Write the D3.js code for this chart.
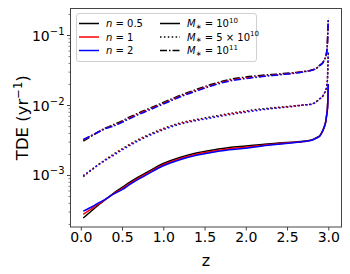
<!DOCTYPE html>
<html><head><meta charset="utf-8">
<script src="https://cdn.jsdelivr.net/npm/d3@7"></script>
<style>body{margin:0;background:#fff}svg{display:block}text{font-family:"DejaVu Sans",sans-serif;fill:#000}</style>
</head><body><svg id="c" width="350" height="274"></svg>
<script>
// redshift grid
const zValues = [0.03,0.1,0.2,0.3,0.4,0.5,0.6,0.7,0.8,1.0,1.2,1.4,1.6,1.8,2.0,2.2,2.4,2.6,2.7,2.8,2.85,2.9,2.93,2.95,2.97,2.98,2.99,2.995,3.0];
// TDE rate (yr^-1), M* = 1e10
const m10_n05 = [2.47e-4,2.91e-4,3.67e-4,4.54e-4,5.62e-4,6.74e-4,8.07e-4,9.52e-4,1.104e-3,1.483e-3,1.807e-3,2.096e-3,2.313e-3,2.512e-3,2.638e-3,2.773e-3,2.911e-3,3.01e-3,3.08e-3,3.21e-3,3.43e-3,3.73e-3,4.32e-3,4.93e-3,6.01e-3,7.31e-3,9.21e-3,1.28e-2,2.03e-2];
const m10_n1  = [2.79e-4,3.17e-4,3.82e-4,4.54e-4,5.51e-4,6.47e-4,7.75e-4,9.14e-4,1.060e-3,1.424e-3,1.735e-3,2.012e-3,2.220e-3,2.412e-3,2.532e-3,2.690e-3,2.853e-3,2.98e-3,3.07e-3,3.20e-3,3.42e-3,3.72e-3,4.31e-3,4.92e-3,6.00e-3,7.30e-3,9.20e-3,1.28e-2,2.03e-2];
const m10_n2  = [3.09e-4,3.40e-4,3.96e-4,4.59e-4,5.45e-4,6.27e-4,7.51e-4,8.85e-4,1.027e-3,1.379e-3,1.681e-3,1.949e-3,2.151e-3,2.336e-3,2.453e-3,2.634e-3,2.795e-3,2.95e-3,3.05e-3,3.18e-3,3.40e-3,3.69e-3,4.28e-3,4.88e-3,5.95e-3,7.24e-3,9.12e-3,1.27e-2,2.01e-2];
// M* = 5e10
const m5e10_n05 = [9.61e-4,1.122e-3,1.390e-3,1.693e-3,2.028e-3,2.405e-3,2.818e-3,3.27e-3,3.73e-3,4.69e-3,5.62e-3,6.31e-3,6.97e-3,7.69e-3,8.35e-3,8.97e-3,9.42e-3,9.90e-3,1.017e-2,1.05e-2,1.122e-2,1.259e-2,1.345e-2,1.483e-2,1.664e-2,1.866e-2,2.39e-2,3.66e-2,5.81e-2];
const m5e10_n1  = [9.80e-4,1.133e-3,1.390e-3,1.676e-3,1.987e-3,2.357e-3,2.762e-3,3.20e-3,3.66e-3,4.60e-3,5.51e-3,6.18e-3,6.83e-3,7.54e-3,8.18e-3,8.79e-3,9.33e-3,9.80e-3,1.015e-2,1.048e-2,1.12e-2,1.257e-2,1.343e-2,1.481e-2,1.662e-2,1.864e-2,2.388e-2,3.66e-2,5.81e-2];
const m5e10_n2  = [1.0e-3,1.144e-3,1.390e-3,1.659e-3,1.947e-3,2.309e-3,2.705e-3,3.14e-3,3.58e-3,4.50e-3,5.40e-3,6.06e-3,6.69e-3,7.38e-3,8.02e-3,8.70e-3,9.23e-3,9.80e-3,1.013e-2,1.046e-2,1.118e-2,1.254e-2,1.340e-2,1.477e-2,1.657e-2,1.859e-2,2.38e-2,3.65e-2,5.80e-2];
// M* = 1e11
const m11_n05 = [3.11e-3,3.49e-3,4.11e-3,4.77e-3,5.35e-3,6.04e-3,6.90e-3,7.81e-3,8.77e-3,1.104e-2,1.390e-2,1.693e-2,2.03e-2,2.35e-2,2.55e-2,2.70e-2,2.82e-2,2.96e-2,3.06e-2,3.21e-2,3.38e-2,3.79e-2,4.05e-2,4.47e-2,5.09e-2,5.81e-2,8.07e-2,0.120,0.174];
const m11_n1  = [3.20e-3,3.56e-3,4.11e-3,4.72e-3,5.19e-3,5.86e-3,6.69e-3,7.58e-3,8.51e-3,1.071e-2,1.348e-2,1.642e-2,1.969e-2,2.28e-2,2.47e-2,2.62e-2,2.76e-2,2.93e-2,3.05e-2,3.20e-2,3.37e-2,3.78e-2,4.04e-2,4.46e-2,5.08e-2,5.80e-2,8.06e-2,0.1199,0.174];
const m11_n2  = [3.27e-3,3.59e-3,4.11e-3,4.67e-3,5.08e-3,5.74e-3,6.56e-3,7.42e-3,8.33e-3,1.049e-2,1.321e-2,1.608e-2,1.929e-2,2.23e-2,2.42e-2,2.59e-2,2.74e-2,2.90e-2,3.03e-2,3.18e-2,3.35e-2,3.75e-2,4.01e-2,4.43e-2,5.04e-2,5.75e-2,8.0e-2,0.119,0.174];

const nLabels = ["0.5","1","2"];
const nColors = ["#000000","#ff0000","#0000ff"];
const mStyles = ["solid","dotted","dashdot"];
const xTicks = [0,0.5,1.0,1.5,2.0,2.5,3.0];
const xTickLabels = ["0.0","0.5","1.0","1.5","2.0","2.5","3.0"];
const yTicks = [1e-3,1e-2,1e-1];
const yTickExps = ["−3","−2","−1"];
const xDomain = [-0.125, 3.16];
const yDomain = [Math.pow(10,-3.736), Math.pow(10,-0.614)];

const seriesByN = [
  [m10_n05, m5e10_n05, m11_n05],
  [m10_n1, m5e10_n1, m11_n1],
  [m10_n2, m5e10_n2, m11_n2]
];

const svg = d3.select("#c");
const L = 70.5, R = 341.5, T = 8.5, B = 227;
const x = d3.scaleLinear().domain(xDomain).range([L, R]);
const y = d3.scaleLog().domain(yDomain).range([B, T]);
const dashes = {solid:null, dotted:"1.5,2.4", dashdot:"7,2,1.5,2"};

// lines
const defs = svg.append("defs");
defs.append("clipPath").attr("id","clip").append("rect").attr("x",L).attr("y",T).attr("width",R-L).attr("height",B-T);
const g = svg.append("g").attr("clip-path","url(#clip)");
const line = d3.line().x((d,i)=>x(zValues[i])).y(d=>y(d)).curve(d3.curveMonotoneX);
seriesByN.forEach((arr,ni)=>{
  arr.forEach((vals,mi)=>{
    g.append("path").attr("d", line(vals)).attr("fill","none")
      .attr("stroke", nColors[ni]).attr("stroke-width",1.5)
      .attr("stroke-dasharray", dashes[mStyles[mi]]);
  });
});

// axes
const frameColor = "#444";
const xAxis = d3.axisBottom(x).tickValues(xTicks).tickFormat((d,i)=>xTickLabels[i]).tickSize(3.5).tickPadding(2);
const gx = svg.append("g").attr("transform",`translate(0,${B})`).call(xAxis);
gx.select(".domain").remove();
gx.selectAll("line").attr("stroke",frameColor);
gx.selectAll("text").attr("font-size",14).attr("font-family","DejaVu Sans").attr("fill","#000");

// y axis: major and minor ticks
const minor = [];
for (let e=-4;e<=0;e++) for (let k=2;k<=9;k++){ const v=k*Math.pow(10,e); if(v>=yDomain[0]&&v<=yDomain[1]) minor.push(v); }
const gy = svg.append("g");
gy.selectAll("line.minor").data(minor).join("line").attr("class","minor")
  .attr("x1",L-2).attr("x2",L).attr("y1",d=>y(d)).attr("y2",d=>y(d)).attr("stroke",frameColor).attr("stroke-width",0.7);
gy.selectAll("line.major").data(yTicks).join("line").attr("class","major")
  .attr("x1",L-3.5).attr("x2",L).attr("y1",d=>y(d)).attr("y2",d=>y(d)).attr("stroke",frameColor).attr("stroke-width",1);
const yt = gy.selectAll("text.yt").data(yTicks).join("text").attr("class","yt")
  .attr("x",L-6).attr("y",d=>y(d)+5).attr("text-anchor","end").attr("font-size",14);
yt.append("tspan").text("10");
yt.append("tspan").attr("dy",-6).attr("font-size",10).text((d,i)=>yTickExps[i]);

// frame
svg.append("rect").attr("x",L).attr("y",T).attr("width",R-L).attr("height",B-T)
  .attr("fill","none").attr("stroke",frameColor).attr("stroke-width",1);

// axis labels
svg.append("text").attr("x",(L+R)/2).attr("y",266).attr("text-anchor","middle").attr("font-size",16).text("z");
const yl = svg.append("text").attr("transform",`translate(28,${(T+B)/2}) rotate(-90)`).attr("text-anchor","middle").attr("font-size",16.5);
yl.append("tspan").text("TDE (yr");
yl.append("tspan").attr("dy",-6.5).attr("font-size",11.5).text("−1");
yl.append("tspan").attr("dy",6.5).text(")");

// legend
const lg = svg.append("g");
lg.append("rect").attr("x",76.5).attr("y",13.5).attr("width",180).attr("height",48).attr("rx",2.5)
  .attr("fill","#fff").attr("fill-opacity",0.8).attr("stroke","#d0d0d0").attr("stroke-width",1);
const rowY = [23.5,37,50.5];
nLabels.forEach((lab,i)=>{
  lg.append("line").attr("x1",79).attr("x2",99).attr("y1",rowY[i]).attr("y2",rowY[i]).attr("stroke",nColors[i]).attr("stroke-width",1.5);
  const t = lg.append("text").attr("x",106).attr("y",rowY[i]+3.5).attr("font-size",10);
  t.append("tspan").attr("font-style","italic").text("n");
  t.append("tspan").text(" = "+lab);
});
const mLabels = [["10","10"],["5 × 10","10"],["10","11"]];
mStyles.forEach((st,i)=>{
  lg.append("line").attr("x1",160).attr("x2",180).attr("y1",rowY[i]).attr("y2",rowY[i]).attr("stroke","#000").attr("stroke-width",1.5).attr("stroke-dasharray",dashes[st]);
  const t = lg.append("text").attr("x",187).attr("y",rowY[i]+3.5).attr("font-size",10);
  t.append("tspan").attr("font-style","italic").text("M");
  t.append("tspan").attr("font-size",7).attr("dy",1.5).text("∗");
  t.append("tspan").attr("dy",-1.5).text(" = "+mLabels[i][0]);
  t.append("tspan").attr("font-size",7).attr("dy",-4.5).text(mLabels[i][1]);
});
</script></body></html>
